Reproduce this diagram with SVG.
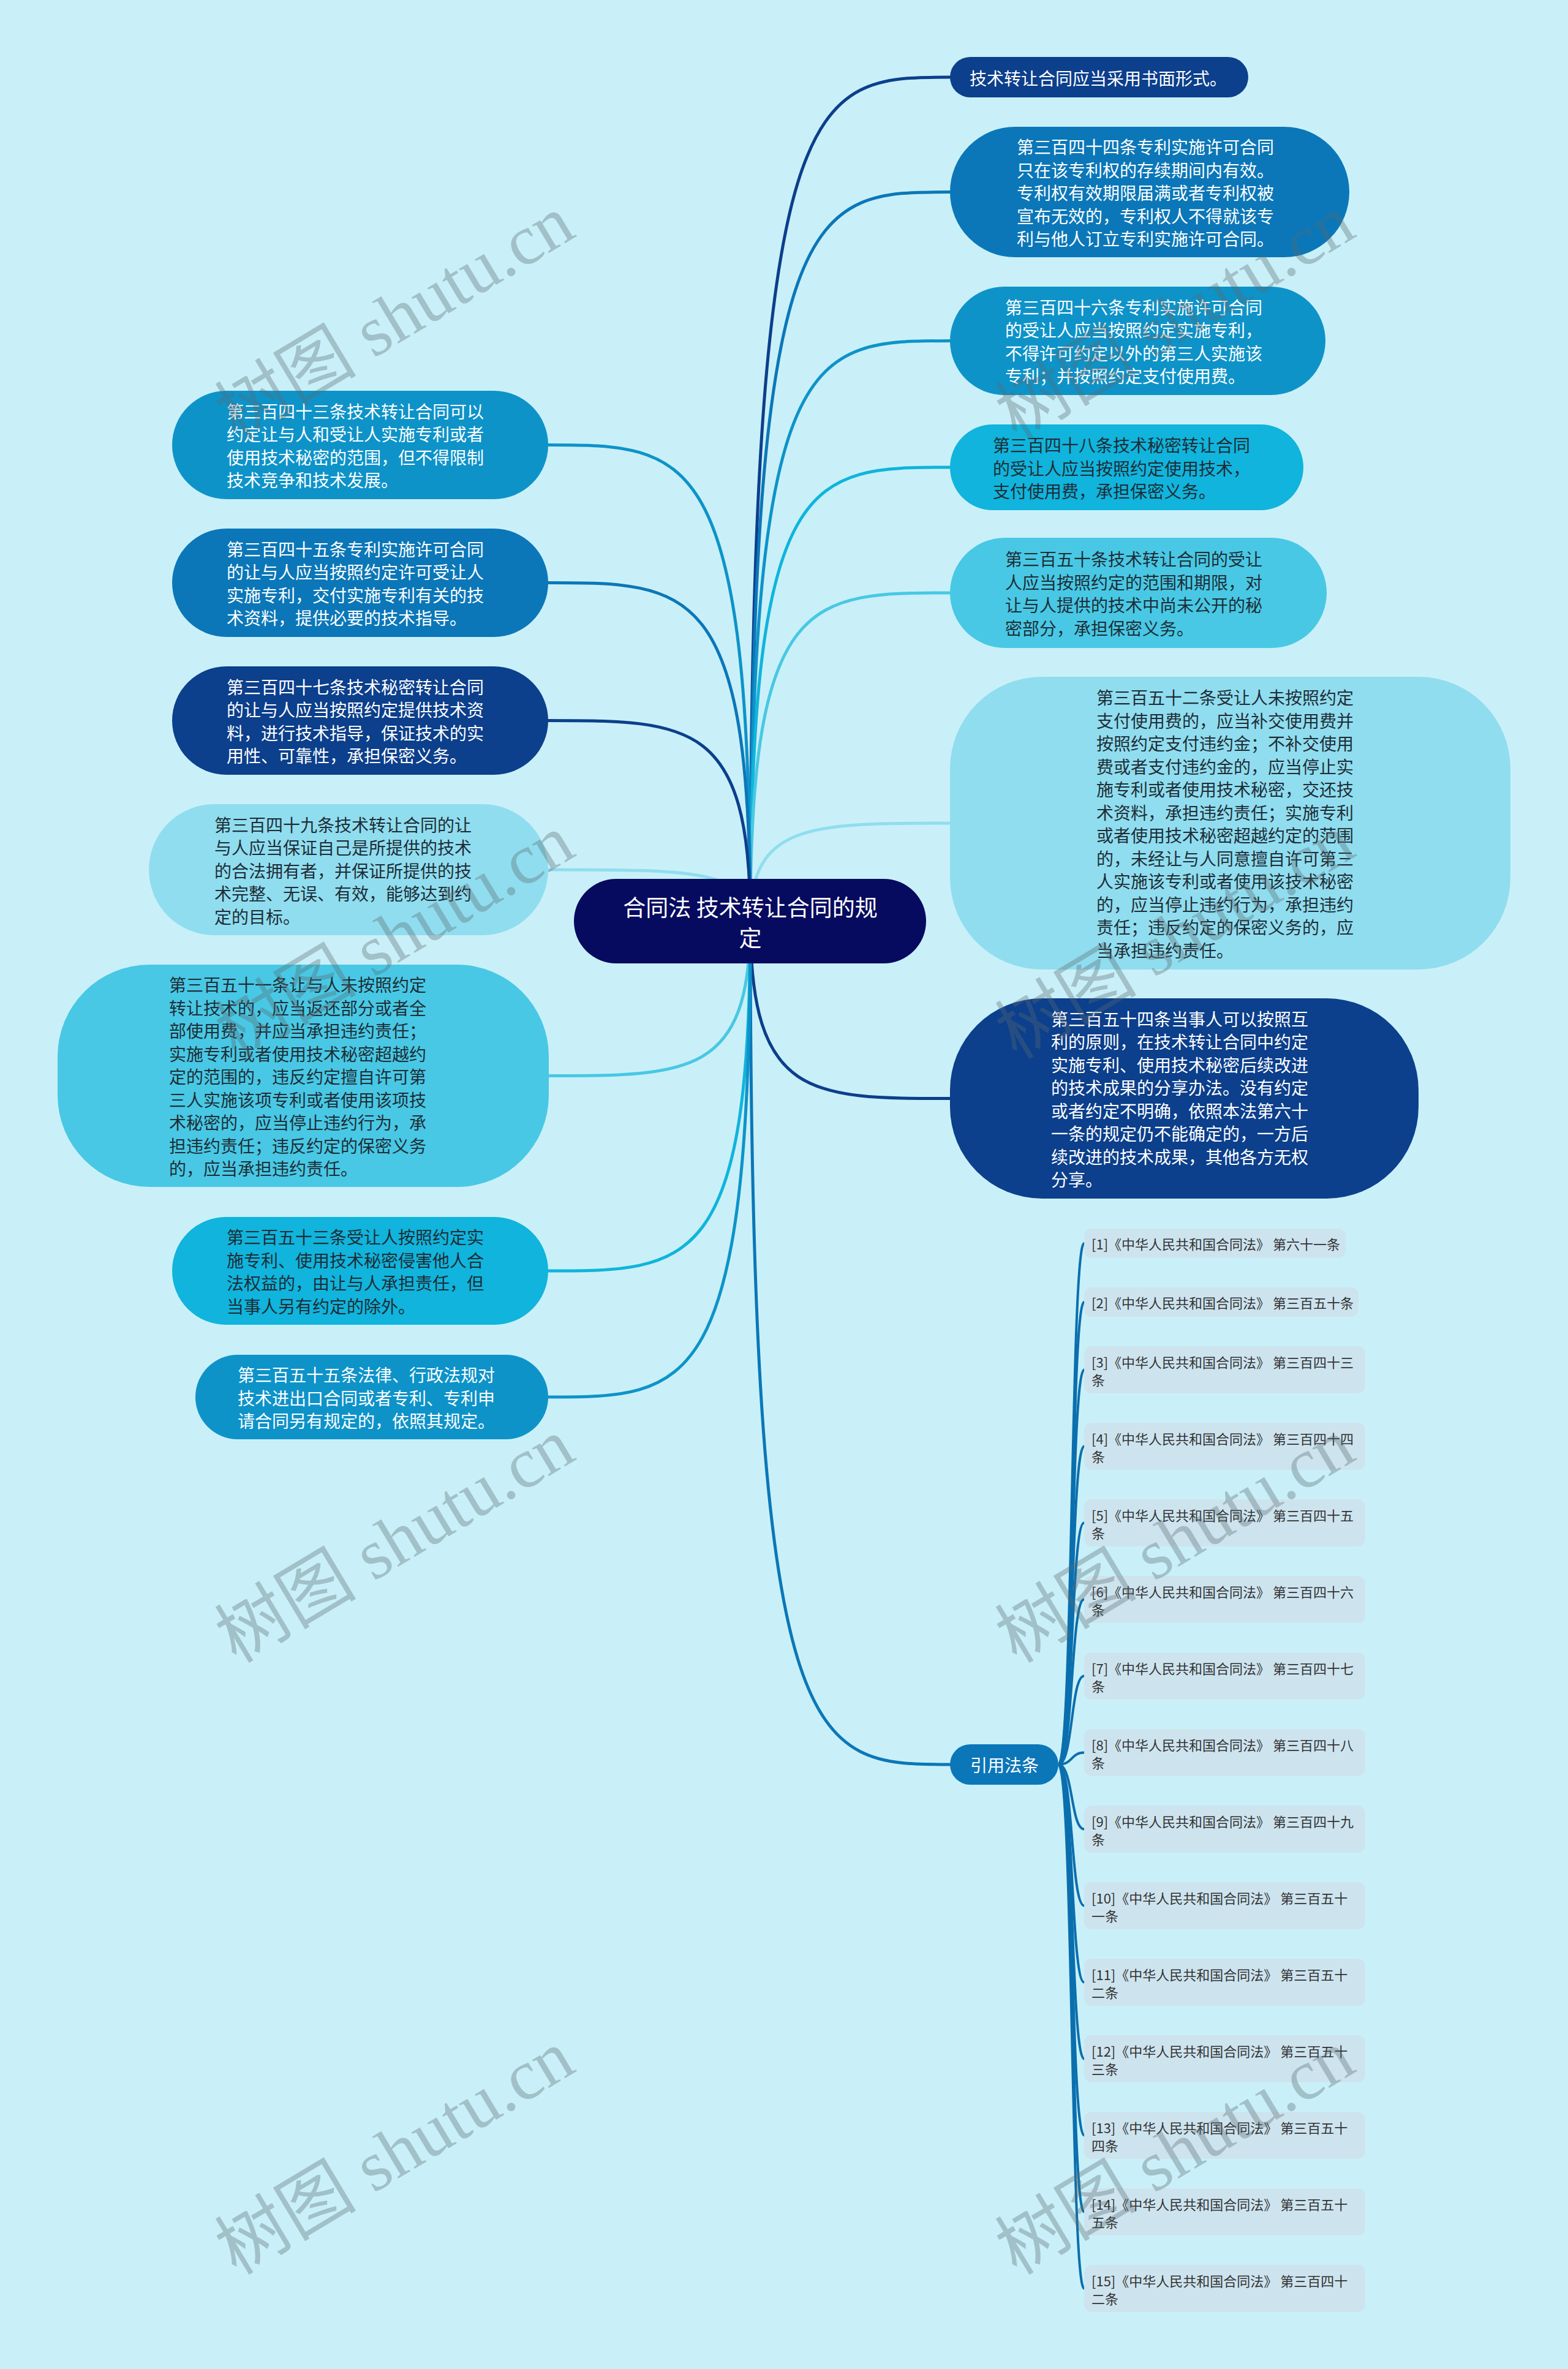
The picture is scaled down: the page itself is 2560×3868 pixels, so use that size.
<svg xmlns="http://www.w3.org/2000/svg" width="2560" height="3868" viewBox="0 0 2560 3868">
<style>
.t{font-family:"Noto Sans CJK SC","Noto Sans",sans-serif;font-size:28px}
.w{fill:#ffffff}
.d{fill:#1e2d36}
.ctr{font-family:"Noto Sans CJK SC","Noto Sans",sans-serif;font-size:37px;fill:#ffffff}
.rt{font-family:"Noto Sans CJK SC","Noto Sans",sans-serif;font-size:22px;fill:#333333}
.ref{fill:#cde4ef}
.navy{fill:#0c3f8c}
.blue{fill:#0b77b8}
.mid{fill:#0e93c9}
.cyan{fill:#10b4dc}
.light{fill:#48c8e4}
.pale{fill:#90ddef}
.c{fill:none;stroke-width:5;stroke-linecap:round}
.rc{fill:none;stroke:#0b6fae;stroke-width:4}
.wm{font-family:"Liberation Serif","Noto Sans CJK SC",serif;font-size:116px;fill:#5a6a70;opacity:0.35}
</style>
<rect x="0" y="0" width="2560" height="3868" fill="#c9f0f8"/>
<g id="connectors">
<path class="c" stroke="#0c3f8c" d="M1225,1504 C1225,126 1323,126 1551,126"/>
<path class="c" stroke="#0b77b8" d="M1225,1504 C1225,313.5 1323,313.5 1551,313.5"/>
<path class="c" stroke="#0e93c9" d="M1225,1504 C1225,556.5 1323,556.5 1551,556.5"/>
<path class="c" stroke="#10b4dc" d="M1225,1504 C1225,763 1323,763 1551,763"/>
<path class="c" stroke="#48c8e4" d="M1225,1504 C1225,968 1323,968 1551,968"/>
<path class="c" stroke="#90ddef" d="M1225,1504 C1225,1344 1323,1344 1551,1344"/>
<path class="c" stroke="#0c3f8c" d="M1225,1504 C1225,1793.5 1323,1793.5 1551,1793.5"/>
<path class="c" stroke="#0b77b8" d="M1225,1504 C1225,2881 1323,2881 1551,2881"/>
<path class="c" stroke="#0e93c9" d="M1225,1504 C1225,726.5 1126,726.5 895,726.5"/>
<path class="c" stroke="#0b77b8" d="M1225,1504 C1225,951.5 1126,951.5 895,951.5"/>
<path class="c" stroke="#0c3f8c" d="M1225,1504 C1225,1176.5 1126,1176.5 895,1176.5"/>
<path class="c" stroke="#90ddef" d="M1225,1504 C1225,1420 1126,1420 895,1420"/>
<path class="c" stroke="#48c8e4" d="M1225,1504 C1225,1756.5 1126,1756.5 896,1756.5"/>
<path class="c" stroke="#10b4dc" d="M1225,1504 C1225,2075 1126,2075 895,2075"/>
<path class="c" stroke="#0e93c9" d="M1225,1504 C1225,2281 1126,2281 895,2281"/>
<path class="rc" d="M1728,2881 C1752,2881 1748,2030 1770,2030"/>
<path class="rc" d="M1728,2881 C1752,2881 1748,2126 1770,2126"/>
<path class="rc" d="M1728,2881 C1752,2881 1748,2236.5 1770,2236.5"/>
<path class="rc" d="M1728,2881 C1752,2881 1748,2361.5 1770,2361.5"/>
<path class="rc" d="M1728,2881 C1752,2881 1748,2486.5 1770,2486.5"/>
<path class="rc" d="M1728,2881 C1752,2881 1748,2611.5 1770,2611.5"/>
<path class="rc" d="M1728,2881 C1752,2881 1748,2736.5 1770,2736.5"/>
<path class="rc" d="M1728,2881 C1752,2881 1748,2861.5 1770,2861.5"/>
<path class="rc" d="M1728,2881 C1752,2881 1748,2986.5 1770,2986.5"/>
<path class="rc" d="M1728,2881 C1752,2881 1748,3111.5 1770,3111.5"/>
<path class="rc" d="M1728,2881 C1752,2881 1748,3236.5 1770,3236.5"/>
<path class="rc" d="M1728,2881 C1752,2881 1748,3361.5 1770,3361.5"/>
<path class="rc" d="M1728,2881 C1752,2881 1748,3486.5 1770,3486.5"/>
<path class="rc" d="M1728,2881 C1752,2881 1748,3611.5 1770,3611.5"/>
<path class="rc" d="M1728,2881 C1752,2881 1748,3736.5 1770,3736.5"/>
</g>
<g id="center">
<rect x="937" y="1435" width="575" height="138" rx="69" fill="#070b5f"/>
<text class="ctr" text-anchor="middle" x="1225" y="1496">合同法 技术转让合同的规</text>
<text class="ctr" text-anchor="middle" x="1225" y="1546">定</text>
</g>
<g id="n1">
<rect class="navy" x="1551" y="93" width="487" height="66" rx="33"/>
<text class="t w" x="1583" y="138.5">技术转让合同应当采用书面形式。</text>
</g>
<g id="n2">
<rect class="blue" x="1551" y="207" width="652" height="213" rx="106.5"/>
<text class="t w" x="1660" y="251"><tspan x="1660">第三百四十四条专利实施许可合同</tspan><tspan x="1660" dy="37.5">只在该专利权的存续期间内有效。</tspan><tspan x="1660" dy="37.5">专利权有效期限届满或者专利权被</tspan><tspan x="1660" dy="37.5">宣布无效的，专利权人不得就该专</tspan><tspan x="1660" dy="37.5">利与他人订立专利实施许可合同。</tspan></text>
</g>
<g id="n3">
<rect class="mid" x="1551" y="468" width="613" height="177" rx="88.5"/>
<text class="t w" x="1641" y="512.75"><tspan x="1641">第三百四十六条专利实施许可合同</tspan><tspan x="1641" dy="37.5">的受让人应当按照约定实施专利，</tspan><tspan x="1641" dy="37.5">不得许可约定以外的第三人实施该</tspan><tspan x="1641" dy="37.5">专利；并按照约定支付使用费。</tspan></text>
</g>
<g id="n4">
<rect class="cyan" x="1551" y="693" width="577" height="140" rx="70"/>
<text class="t d" x="1621" y="738"><tspan x="1621">第三百四十八条技术秘密转让合同</tspan><tspan x="1621" dy="37.5">的受让人应当按照约定使用技术，</tspan><tspan x="1621" dy="37.5">支付使用费，承担保密义务。</tspan></text>
</g>
<g id="n5">
<rect class="light" x="1551" y="878" width="615" height="180" rx="90"/>
<text class="t d" x="1641" y="924.25"><tspan x="1641">第三百五十条技术转让合同的受让</tspan><tspan x="1641" dy="37.5">人应当按照约定的范围和期限，对</tspan><tspan x="1641" dy="37.5">让与人提供的技术中尚未公开的秘</tspan><tspan x="1641" dy="37.5">密部分，承担保密义务。</tspan></text>
</g>
<g id="n6">
<rect class="pale" x="1551" y="1105" width="915" height="478" rx="150"/>
<text class="t d" x="1790" y="1150.25"><tspan x="1790">第三百五十二条受让人未按照约定</tspan><tspan x="1790" dy="37.5">支付使用费的，应当补交使用费并</tspan><tspan x="1790" dy="37.5">按照约定支付违约金；不补交使用</tspan><tspan x="1790" dy="37.5">费或者支付违约金的，应当停止实</tspan><tspan x="1790" dy="37.5">施专利或者使用技术秘密，交还技</tspan><tspan x="1790" dy="37.5">术资料，承担违约责任；实施专利</tspan><tspan x="1790" dy="37.5">或者使用技术秘密超越约定的范围</tspan><tspan x="1790" dy="37.5">的，未经让与人同意擅自许可第三</tspan><tspan x="1790" dy="37.5">人实施该专利或者使用该技术秘密</tspan><tspan x="1790" dy="37.5">的，应当停止违约行为，承担违约</tspan><tspan x="1790" dy="37.5">责任；违反约定的保密义务的，应</tspan><tspan x="1790" dy="37.5">当承担违约责任。</tspan></text>
</g>
<g id="n7">
<rect class="navy" x="1551" y="1630" width="765" height="327" rx="150"/>
<text class="t w" x="1716" y="1674.75"><tspan x="1716">第三百五十四条当事人可以按照互</tspan><tspan x="1716" dy="37.5">利的原则，在技术转让合同中约定</tspan><tspan x="1716" dy="37.5">实施专利、使用技术秘密后续改进</tspan><tspan x="1716" dy="37.5">的技术成果的分享办法。没有约定</tspan><tspan x="1716" dy="37.5">或者约定不明确，依照本法第六十</tspan><tspan x="1716" dy="37.5">一条的规定仍不能确定的，一方后</tspan><tspan x="1716" dy="37.5">续改进的技术成果，其他各方无权</tspan><tspan x="1716" dy="37.5">分享。</tspan></text>
</g>
<g id="l1">
<rect class="mid" x="281" y="638" width="614" height="177" rx="88.5"/>
<text class="t w" x="370" y="682.75"><tspan x="370">第三百四十三条技术转让合同可以</tspan><tspan x="370" dy="37.5">约定让与人和受让人实施专利或者</tspan><tspan x="370" dy="37.5">使用技术秘密的范围，但不得限制</tspan><tspan x="370" dy="37.5">技术竞争和技术发展。</tspan></text>
</g>
<g id="l2">
<rect class="blue" x="281" y="863" width="614" height="177" rx="88.5"/>
<text class="t w" x="370" y="907.75"><tspan x="370">第三百四十五条专利实施许可合同</tspan><tspan x="370" dy="37.5">的让与人应当按照约定许可受让人</tspan><tspan x="370" dy="37.5">实施专利，交付实施专利有关的技</tspan><tspan x="370" dy="37.5">术资料，提供必要的技术指导。</tspan></text>
</g>
<g id="l3">
<rect class="navy" x="281" y="1088" width="614" height="177" rx="88.5"/>
<text class="t w" x="370" y="1132.75"><tspan x="370">第三百四十七条技术秘密转让合同</tspan><tspan x="370" dy="37.5">的让与人应当按照约定提供技术资</tspan><tspan x="370" dy="37.5">料，进行技术指导，保证技术的实</tspan><tspan x="370" dy="37.5">用性、可靠性，承担保密义务。</tspan></text>
</g>
<g id="l4">
<rect class="pale" x="243" y="1313" width="652" height="214" rx="107"/>
<text class="t d" x="350" y="1357.5"><tspan x="350">第三百四十九条技术转让合同的让</tspan><tspan x="350" dy="37.5">与人应当保证自己是所提供的技术</tspan><tspan x="350" dy="37.5">的合法拥有者，并保证所提供的技</tspan><tspan x="350" dy="37.5">术完整、无误、有效，能够达到约</tspan><tspan x="350" dy="37.5">定的目标。</tspan></text>
</g>
<g id="l5">
<rect class="light" x="94" y="1575" width="802" height="363" rx="150"/>
<text class="t d" x="276" y="1619"><tspan x="276">第三百五十一条让与人未按照约定</tspan><tspan x="276" dy="37.5">转让技术的，应当返还部分或者全</tspan><tspan x="276" dy="37.5">部使用费，并应当承担违约责任；</tspan><tspan x="276" dy="37.5">实施专利或者使用技术秘密超越约</tspan><tspan x="276" dy="37.5">定的范围的，违反约定擅自许可第</tspan><tspan x="276" dy="37.5">三人实施该项专利或者使用该项技</tspan><tspan x="276" dy="37.5">术秘密的，应当停止违约行为，承</tspan><tspan x="276" dy="37.5">担违约责任；违反约定的保密义务</tspan><tspan x="276" dy="37.5">的，应当承担违约责任。</tspan></text>
</g>
<g id="l6">
<rect class="cyan" x="281" y="1987" width="614" height="176" rx="88"/>
<text class="t d" x="370" y="2031.25"><tspan x="370">第三百五十三条受让人按照约定实</tspan><tspan x="370" dy="37.5">施专利、使用技术秘密侵害他人合</tspan><tspan x="370" dy="37.5">法权益的，由让与人承担责任，但</tspan><tspan x="370" dy="37.5">当事人另有约定的除外。</tspan></text>
</g>
<g id="l7">
<rect class="mid" x="319" y="2212" width="576" height="138" rx="69"/>
<text class="t w" x="388" y="2256"><tspan x="388">第三百五十五条法律、行政法规对</tspan><tspan x="388" dy="37.5">技术进出口合同或者专利、专利申</tspan><tspan x="388" dy="37.5">请合同另有规定的，依照其规定。</tspan></text>
</g>
<g id="cite">
<rect class="blue" x="1551" y="2848" width="177" height="66" rx="33"/>
<text class="t w" text-anchor="middle" x="1640" y="2893">引用法条</text>
</g>
<g id="r1"><rect class="ref" x="1770" y="2006" width="427" height="48" rx="12"/><text class="rt" x="1782" y="2040">[1]《中华人民共和国合同法》 第六十一条</text></g>
<g id="r2"><rect class="ref" x="1770" y="2102" width="448" height="48" rx="12"/><text class="rt" x="1782" y="2136">[2]《中华人民共和国合同法》 第三百五十条</text></g>
<g id="r3"><rect class="ref" x="1770" y="2198" width="459" height="77" rx="12"/><text class="rt" x="1782" y="2232.5"><tspan x="1782">[3]《中华人民共和国合同法》 第三百四十三</tspan><tspan x="1782" dy="29">条</tspan></text></g>
<g id="r4"><rect class="ref" x="1770" y="2323" width="459" height="77" rx="12"/><text class="rt" x="1782" y="2357.5"><tspan x="1782">[4]《中华人民共和国合同法》 第三百四十四</tspan><tspan x="1782" dy="29">条</tspan></text></g>
<g id="r5"><rect class="ref" x="1770" y="2448" width="459" height="77" rx="12"/><text class="rt" x="1782" y="2482.5"><tspan x="1782">[5]《中华人民共和国合同法》 第三百四十五</tspan><tspan x="1782" dy="29">条</tspan></text></g>
<g id="r6"><rect class="ref" x="1770" y="2573" width="459" height="77" rx="12"/><text class="rt" x="1782" y="2607.5"><tspan x="1782">[6]《中华人民共和国合同法》 第三百四十六</tspan><tspan x="1782" dy="29">条</tspan></text></g>
<g id="r7"><rect class="ref" x="1770" y="2698" width="459" height="77" rx="12"/><text class="rt" x="1782" y="2732.5"><tspan x="1782">[7]《中华人民共和国合同法》 第三百四十七</tspan><tspan x="1782" dy="29">条</tspan></text></g>
<g id="r8"><rect class="ref" x="1770" y="2823" width="459" height="77" rx="12"/><text class="rt" x="1782" y="2857.5"><tspan x="1782">[8]《中华人民共和国合同法》 第三百四十八</tspan><tspan x="1782" dy="29">条</tspan></text></g>
<g id="r9"><rect class="ref" x="1770" y="2948" width="459" height="77" rx="12"/><text class="rt" x="1782" y="2982.5"><tspan x="1782">[9]《中华人民共和国合同法》 第三百四十九</tspan><tspan x="1782" dy="29">条</tspan></text></g>
<g id="r10"><rect class="ref" x="1770" y="3073" width="459" height="77" rx="12"/><text class="rt" x="1782" y="3107.5"><tspan x="1782">[10]《中华人民共和国合同法》 第三百五十</tspan><tspan x="1782" dy="29">一条</tspan></text></g>
<g id="r11"><rect class="ref" x="1770" y="3198" width="459" height="77" rx="12"/><text class="rt" x="1782" y="3232.5"><tspan x="1782">[11]《中华人民共和国合同法》 第三百五十</tspan><tspan x="1782" dy="29">二条</tspan></text></g>
<g id="r12"><rect class="ref" x="1770" y="3323" width="459" height="77" rx="12"/><text class="rt" x="1782" y="3357.5"><tspan x="1782">[12]《中华人民共和国合同法》 第三百五十</tspan><tspan x="1782" dy="29">三条</tspan></text></g>
<g id="r13"><rect class="ref" x="1770" y="3448" width="459" height="77" rx="12"/><text class="rt" x="1782" y="3482.5"><tspan x="1782">[13]《中华人民共和国合同法》 第三百五十</tspan><tspan x="1782" dy="29">四条</tspan></text></g>
<g id="r14"><rect class="ref" x="1770" y="3573" width="459" height="77" rx="12"/><text class="rt" x="1782" y="3607.5"><tspan x="1782">[14]《中华人民共和国合同法》 第三百五十</tspan><tspan x="1782" dy="29">五条</tspan></text></g>
<g id="r15"><rect class="ref" x="1770" y="3698" width="459" height="77" rx="12"/><text class="rt" x="1782" y="3732.5"><tspan x="1782">[15]《中华人民共和国合同法》 第三百四十</tspan><tspan x="1782" dy="29">二条</tspan></text></g>
<g id="watermarks">
<text class="wm" text-anchor="middle" transform="translate(644,518) rotate(-31)" y="40">树图 shutu.cn</text>
<text class="wm" text-anchor="middle" transform="translate(1918,518) rotate(-31)" y="40">树图 shutu.cn</text>
<text class="wm" text-anchor="middle" transform="translate(644,1529) rotate(-31)" y="40">树图 shutu.cn</text>
<text class="wm" text-anchor="middle" transform="translate(1918,1529) rotate(-31)" y="40">树图 shutu.cn</text>
<text class="wm" text-anchor="middle" transform="translate(644,2515) rotate(-31)" y="40">树图 shutu.cn</text>
<text class="wm" text-anchor="middle" transform="translate(1918,2515) rotate(-31)" y="40">树图 shutu.cn</text>
<text class="wm" text-anchor="middle" transform="translate(644,3514) rotate(-31)" y="40">树图 shutu.cn</text>
<text class="wm" text-anchor="middle" transform="translate(1918,3514) rotate(-31)" y="40">树图 shutu.cn</text>
</g>
</svg>
